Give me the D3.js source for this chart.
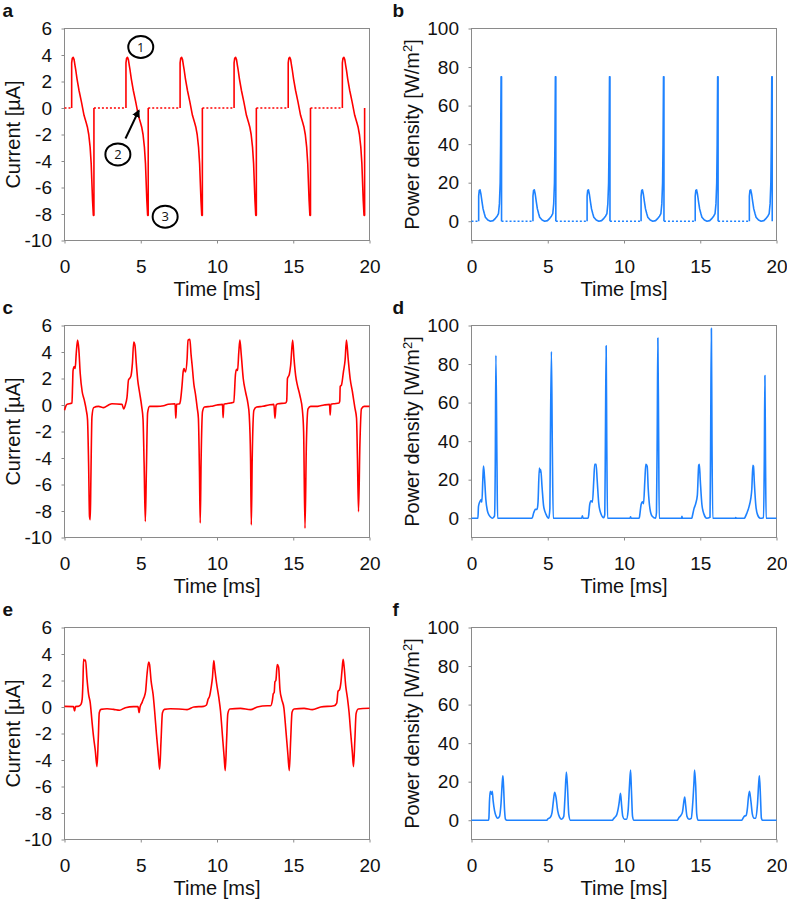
<!DOCTYPE html>
<html>
<head>
<meta charset="utf-8">
<script src="https://cdn.jsdelivr.net/npm/d3@7"></script>
<style>
  body { margin: 0; background: #fff; }
  text { font-family: Arial, "Liberation Sans", sans-serif; fill: #111; }
</style>
</head>
<body>
<svg id="chart" width="787" height="902"></svg>
<script>
// ---- tick labels ----
const timeTicks = [0, 5, 10, 15, 20];
const currentTicks = [6, 4, 2, 0, -2, -4, -6, -8, -10];
const powerTicks = [100, 80, 60, 40, 20, 0];

// ---- a / b : simulated, every pulse is the same shape ----
const simPulseStarts = [0.47, 4.03, 7.58, 11.12, 14.67, 18.22];
const simCurrentOffset = [0, 0, 0.04, 0.1, 0.16, 0.22, 0.27, 0.35, 0.48, 0.64, 0.81, 0.95, 1.03, 1.12, 1.21, 1.28, 1.32, 1.37, 1.42, 1.46, 1.46];
const simCurrent = [0, 3.4, 3.75, 3.82, 3.65, 3.2, 2.85, 2.2, 1.34, 0.46, -0.55, -1.1, -1.43, -2.0, -2.95, -4.2, -5.46, -7.0, -8.1, -8.1, 0];
const simPowerOffset = [0, 0, 0.04, 0.09, 0.15, 0.22, 0.29, 0.37, 0.44, 0.6, 0.77, 0.95, 1.1, 1.21, 1.3, 1.36, 1.41, 1.44, 1.47, 1.5, 1.5];
const simPower = [0, 13, 16, 16.3, 14, 10, 6.4, 4, 2.1, 0.6, 0, 0.3, 1.5, 2.6, 4, 9, 20, 40, 75, 75, 0];

// ---- c / d : measured [time ms, value] ----
const traceC = [[0,-0.4],[0.08,-0.1],[0.16,0.05],[0.49,0.15],[0.53,1.5],[0.56,2.6],[0.64,2.9],[0.7,2.75],[0.77,3.9],[0.86,4.9],[0.94,4.2],[1.03,2.4],[1.16,1.0],[1.29,0.4],[1.43,-0.4],[1.51,-1.1],[1.58,-4.4],[1.64,-8.4],[1.69,-8.65],[1.73,-5.6],[1.8,-0.9],[1.91,-0.2],[2.23,-0.1],[2.56,-0.2],[2.89,0],[3.11,0.1],[3.77,0.05],[3.88,-0.3],[3.99,0],[4.1,0.6],[4.2,1.9],[4.27,2.0],[4.36,2.2],[4.45,3.1],[4.54,4.75],[4.62,4.5],[4.71,3.1],[4.8,1.9],[4.93,0.9],[5.06,-0.1],[5.15,-1.1],[5.22,-4.4],[5.3,-8.8],[5.37,-4.9],[5.45,-0.6],[5.58,-0.1],[6.07,-0.1],[6.5,-0.05],[6.8,0.05],[7.25,0.1],[7.3,-1.0],[7.35,0.05],[7.55,0.1],[7.6,0.3],[7.71,1.5],[7.78,2.5],[7.84,2.75],[7.93,2.5],[8.04,3.5],[8.1,4.9],[8.22,4.95],[8.3,3.8],[8.37,3.0],[8.48,1.6],[8.59,0.8],[8.7,-0.2],[8.78,-1.0],[8.85,-5],[8.9,-8.9],[8.96,-4],[9.05,-0.5],[9.18,-0.15],[9.6,-0.1],[10.0,0],[10.36,0.05],[10.4,-0.95],[10.45,0.05],[10.62,0.1],[10.89,0.15],[11.1,0.2],[11.21,2.3],[11.28,2.7],[11.35,2.6],[11.43,4.0],[11.5,4.9],[11.59,3.8],[11.72,2.0],[11.87,1.0],[12.03,0.1],[12.11,-0.7],[12.2,-4],[12.25,-9.05],[12.31,-4],[12.42,-0.4],[12.6,-0.15],[13.0,-0.1],[13.4,0],[13.73,0.05],[13.8,-1.0],[13.88,0.0],[14.0,0.1],[14.5,0.15],[14.57,0.3],[14.62,2.0],[14.74,2.3],[14.83,3.0],[14.96,4.9],[15.05,3.5],[15.16,2.2],[15.27,1.5],[15.44,0.7],[15.6,-0.4],[15.68,-2],[15.77,-9.3],[15.86,-3],[15.97,-0.3],[16.14,-0.1],[16.6,-0.1],[17.02,0],[17.38,0.05],[17.42,-0.75],[17.47,0.05],[17.7,0.1],[18.0,0.15],[18.05,0.3],[18.08,1.4],[18.16,1.5],[18.29,2.5],[18.4,3.4],[18.49,4.9],[18.6,3.5],[18.73,2.0],[18.88,1.0],[19.04,-0.2],[19.15,-1.0],[19.21,-4],[19.28,-8.05],[19.37,-3],[19.47,-0.3],[19.65,-0.1],[20,-0.1]];
const traceD = [[0,0],[0.42,0],[0.46,6.3],[0.57,8.9],[0.64,9.7],[0.68,8.3],[0.75,21.6],[0.79,27.1],[0.85,21.6],[0.94,9.7],[1.08,2.8],[1.23,0.8],[1.38,0],[1.51,1.2],[1.56,28.6],[1.6,84.5],[1.67,28.6],[1.71,0],[3.97,0],[4.08,2.8],[4.19,4.6],[4.3,4.6],[4.36,8],[4.45,26.1],[4.5,24],[4.54,25.2],[4.63,15.8],[4.73,6.3],[4.89,2],[5.06,0],[5.14,5],[5.17,37],[5.24,86.5],[5.3,37],[5.36,0],[7.22,0],[7.27,1.2],[7.32,0],[7.65,0],[7.69,2],[7.75,7],[7.84,9],[7.93,8.3],[8.02,20],[8.08,28],[8.17,28],[8.24,20],[8.34,8],[8.46,3],[8.67,0.3],[8.74,2],[8.78,40],[8.83,89.5],[8.87,40],[8.92,0],[10.4,0],[10.43,0.8],[10.46,0],[11.0,0],[11.04,2],[11.12,7],[11.21,8.5],[11.28,7.5],[11.37,20],[11.43,28],[11.52,27],[11.59,15],[11.7,5],[11.85,1],[12.07,0],[12.13,3],[12.18,45],[12.22,93.5],[12.27,45],[12.31,0],[13.77,0],[13.8,1.0],[13.83,0],[14.45,0],[14.48,1],[14.59,5],[14.7,7.5],[14.81,12],[14.9,27.5],[14.94,28],[15.0,20],[15.11,7],[15.25,2],[15.42,0],[15.64,0.5],[15.68,40],[15.73,98.5],[15.77,40],[15.82,0],[17.3,0],[17.33,0.4],[17.36,0],[17.9,0],[17.94,0.5],[18.05,2.5],[18.2,6],[18.31,10],[18.38,15],[18.45,27.5],[18.49,27],[18.55,18],[18.64,7],[18.75,2],[18.93,0],[19.15,0.3],[19.2,30],[19.24,74],[19.28,30],[19.32,0],[20,0]];

// ---- e / f : measured [time ms, value] ----
const traceE = [[0,0.05],[0.59,0.03],[0.66,-0.3],[0.72,0.03],[0.92,0.06],[1.08,0.2],[1.16,0.6],[1.21,1.9],[1.25,3.6],[1.31,3.5],[1.38,3.55],[1.47,2.2],[1.58,0.95],[1.69,0.3],[1.8,-1.05],[1.91,-2.3],[2.02,-3.3],[2.13,-4.5],[2.21,-2.55],[2.28,-0.43],[2.39,-0.18],[2.79,-0.13],[3.22,-0.18],[3.61,-0.25],[3.99,-0.05],[4.53,0.03],[4.82,0.03],[4.89,-0.42],[4.96,0.03],[5.09,0.35],[5.17,0.6],[5.24,0.8],[5.32,1.2],[5.41,2.45],[5.52,3.4],[5.58,3.2],[5.68,1.95],[5.81,0.95],[5.91,-0.3],[6.03,-2.05],[6.16,-3.7],[6.24,-4.7],[6.33,-2.55],[6.42,-0.45],[6.55,-0.18],[6.94,-0.13],[7.5,-0.15],[8.04,-0.2],[8.48,0],[9.13,0.05],[9.31,0.15],[9.42,0.6],[9.51,0.8],[9.62,1.5],[9.7,2.2],[9.79,3.5],[9.86,2.8],[9.97,1.8],[10.12,0.7],[10.23,-0.3],[10.36,-2.2],[10.47,-3.8],[10.54,-4.8],[10.63,-2.5],[10.71,-0.5],[10.84,-0.15],[11.54,-0.1],[12.2,-0.2],[12.64,0],[13.3,0.1],[13.52,0.1],[13.63,0.5],[13.69,1.0],[13.75,1.1],[13.8,1.9],[13.86,2.0],[13.95,3.2],[14.04,3.0],[14.13,1.3],[14.24,0.6],[14.39,-0.1],[14.52,-1.8],[14.65,-3.6],[14.74,-4.8],[14.83,-2.5],[14.92,-0.4],[15.05,-0.15],[15.71,-0.1],[16.25,-0.2],[16.8,0],[17.68,0.1],[17.85,0.3],[17.94,1.2],[18.03,1.3],[18.12,1.8],[18.2,2.8],[18.27,3.6],[18.34,3.0],[18.44,1.6],[18.55,0.7],[18.66,-0.4],[18.77,-2.0],[18.88,-3.5],[18.95,-4.5],[19.04,-2.5],[19.12,-0.5],[19.26,-0.15],[20,-0.1]];
const traceF = [[0,0],[1.12,0],[1.14,1],[1.18,10],[1.23,15],[1.27,14],[1.31,13.5],[1.36,15],[1.42,10],[1.51,5],[1.62,2],[1.71,1],[1.84,2],[1.93,8],[2.02,20],[2.06,23],[2.1,18],[2.17,5],[2.23,0.5],[2.32,0],[4.95,0],[4.99,0.5],[5.17,1.5],[5.28,4],[5.37,10],[5.45,14.5],[5.54,12],[5.65,5],[5.78,1.5],[5.91,0.5],[6.05,2],[6.13,12],[6.22,25],[6.29,18],[6.38,3],[6.48,0],[9.25,0],[9.29,0.5],[9.4,1.5],[9.53,3],[9.62,6],[9.68,9],[9.77,14],[9.84,8],[9.92,2],[10.03,0.5],[10.16,0.5],[10.27,5],[10.36,18],[10.43,26],[10.49,15],[10.56,2],[10.65,0],[13.5,0],[13.54,0.5],[13.62,1.5],[13.73,2.5],[13.84,4.5],[13.93,10],[13.98,12],[14.04,8],[14.13,2],[14.26,0.5],[14.41,1],[14.5,8],[14.59,20],[14.63,26],[14.7,18],[14.77,3],[14.85,0],[17.72,0],[17.77,0.5],[17.88,2],[18.01,2.5],[18.09,6],[18.16,12],[18.23,15],[18.32,10],[18.42,3],[18.53,1],[18.64,1],[18.75,8],[18.84,20],[18.88,23],[18.95,12],[19.01,1],[19.08,0],[20,0]];

// ---- layout ----
const plotW = 305, plotH = 212;
const colX = [64.5, 471.5];
const rowY = [28.5, 325.5, 627.5];
const red = "#ff0000", blue = "#1e82ff", axisGray = "#8a8a8a";
const tickFont = 19, titleFont = 20;

const svg = d3.select("#chart");

// build pulse list + dotted gaps for the simulated panels
function simSeries(offsets, values, endOffset) {
    let pulses = simPulseStarts.map(t0 => offsets.map((o, i) => [t0 + o, values[i]]));
    let gaps = simPulseStarts.map((t0, i) => {
        let from = i === 0 ? 0 : simPulseStarts[i - 1] + endOffset;
        return [[from, 0], [t0, 0]];
    });
    return {pulses: pulses, gaps: gaps};
}

function drawPanel(p) {
    let g = svg.append("g").attr("transform", "translate(" + p.x + "," + p.y + ")");
    let x = d3.scaleLinear().domain([0, 20]).range([0, plotW]);
    let y = d3.scaleLinear().domain(p.domain).range([plotH, 0]);

    g.append("clipPath").attr("id", "clip-" + p.id)
        .append("rect").attr("x", -1).attr("y", -1).attr("width", plotW + 2).attr("height", plotH + 2);

    g.append("rect").attr("width", plotW).attr("height", plotH)
        .attr("fill", "none").attr("stroke", axisGray).attr("stroke-width", 1);

    let xAxis = g.append("g").attr("transform", "translate(0," + plotH + ")")
        .call(d3.axisBottom(x).tickValues(timeTicks).tickSize(3).tickPadding(16).tickFormat(d => String(d)));
    let yAxis = g.append("g")
        .call(d3.axisLeft(y).tickValues(p.ticks).tickSize(3).tickPadding(9.5).tickFormat(d => String(d)));
    [xAxis, yAxis].forEach(a => {
        a.select(".domain").remove();
        a.selectAll(".tick line").attr("stroke", axisGray);
        a.selectAll(".tick text").style("font-size", tickFont + "px").attr("fill", "#111")
            .style("font-family", "Arial, 'Liberation Sans', sans-serif");
    });

    let line = d3.line().x(d => x(d[0])).y(d => y(d[1]));
    let plot = g.append("g").attr("clip-path", "url(#clip-" + p.id + ")");

    if (p.gaps) {
        plot.selectAll(".gap").data(p.gaps).join("path").attr("class", "gap")
            .attr("d", line).attr("fill", "none").attr("stroke", p.color)
            .attr("stroke-width", 1.6).attr("stroke-dasharray", "2,2");
    }
    plot.selectAll(".trace").data(p.traces).join("path").attr("class", "trace")
        .attr("d", p.smooth ? line.curve(d3.curveMonotoneX) : line)
        .attr("fill", "none").attr("stroke", p.color).attr("stroke-width", 1.6)
        .attr("stroke-linejoin", "round");

    // panel letter
    g.append("text").attr("x", p.letterDx).attr("y", -11.5)
        .style("font-size", "19px").style("font-weight", "bold").text(p.letter);

    // axis titles
    g.append("text").attr("x", plotW / 2).attr("y", plotH + 55)
        .attr("text-anchor", "middle").style("font-size", titleFont + "px").text("Time [ms]");

    let yt = g.append("text")
        .attr("transform", "translate(" + p.titleDx + "," + (plotH / 2) + ") rotate(-90)")
        .attr("text-anchor", "middle").style("font-size", titleFont + "px");
    if (p.power) {
        yt.append("tspan").text("Power density [W/m");
        yt.append("tspan").attr("dy", -7).style("font-size", "13px").text("2");
        yt.append("tspan").attr("dy", 7).text("]");
    } else {
        yt.text("Current [\u00b5A]");
    }
    return {g: g, x: x, y: y};
}

let simA = simSeries(simCurrentOffset, simCurrent, 1.46);
let simB = simSeries(simPowerOffset, simPower, 1.5);

let panelA = drawPanel({id: "a", letter: "a", x: colX[0], y: rowY[0], domain: [-10, 6], ticks: currentTicks,
    color: red, traces: simA.pulses, gaps: simA.gaps, letterDx: -62, titleDx: -45});
drawPanel({id: "b", letter: "b", x: colX[1], y: rowY[0], domain: [-10, 100], ticks: powerTicks, power: true,
    color: blue, traces: simB.pulses, gaps: simB.gaps, letterDx: -79, titleDx: -53});
drawPanel({id: "c", letter: "c", x: colX[0], y: rowY[1], domain: [-10, 6], ticks: currentTicks,
    color: red, traces: [traceC], smooth: true, letterDx: -62, titleDx: -45});
drawPanel({id: "d", letter: "d", x: colX[1], y: rowY[1], domain: [-10, 100], ticks: powerTicks, power: true,
    color: blue, traces: [traceD], smooth: true, letterDx: -79, titleDx: -53});
drawPanel({id: "e", letter: "e", x: colX[0], y: rowY[2], domain: [-10, 6], ticks: currentTicks,
    color: red, traces: [traceE], smooth: true, letterDx: -62, titleDx: -45});
drawPanel({id: "f", letter: "f", x: colX[1], y: rowY[2], domain: [-10, 100], ticks: powerTicks, power: true,
    color: blue, traces: [traceF], smooth: true, letterDx: -79, titleDx: -53});

// circled markers + arrow in panel a, placed in data coordinates
const markerLabels = ["1", "2", "3"];
const markerTime = [5.0, 3.5, 6.6];
const markerCurrent = [4.6, -3.5, -8.2];
let ga = panelA.g;
svg.append("defs").append("marker").attr("id", "arrowhead")
    .attr("viewBox", "0 0 10 10").attr("refX", 8).attr("refY", 5)
    .attr("markerWidth", 4).attr("markerHeight", 4).attr("orient", "auto")
    .append("path").attr("d", "M0,0 L10,5 L0,10 z").attr("fill", "#000");
ga.append("line")
    .attr("x1", panelA.x(4.0)).attr("y1", panelA.y(-2.3))
    .attr("x2", panelA.x(4.87)).attr("y2", panelA.y(-0.2))
    .attr("stroke", "#000").attr("stroke-width", 2).attr("marker-end", "url(#arrowhead)");
markerLabels.forEach((lab, i) => {
    let cx = panelA.x(markerTime[i]), cy = panelA.y(markerCurrent[i]);
    ga.append("ellipse").attr("cx", cx).attr("cy", cy).attr("rx", 12.5).attr("ry", 11)
        .attr("fill", "#fff").attr("stroke", "#000").attr("stroke-width", 2);
    ga.append("text").attr("x", cx).attr("y", cy + 4.5).attr("text-anchor", "middle")
        .style("font-size", "13px").style("font-family", "'Open Sans', sans-serif").text(lab);
});
</script>
</body>
</html>
